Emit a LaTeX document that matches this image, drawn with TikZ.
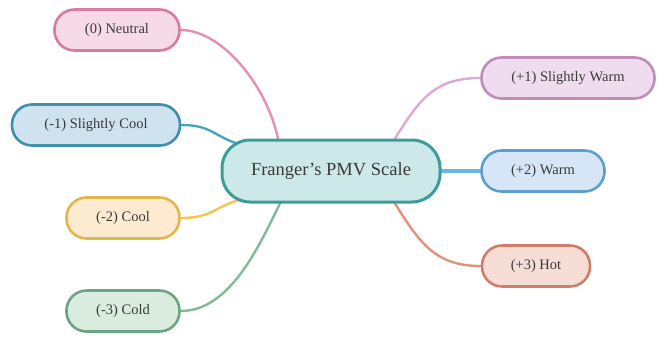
\documentclass[tikz,border=0pt]{standalone}
\usepackage{fontspec}
\setmainfont{Liberation Serif}
\usetikzlibrary{calc}
\pgfdeclarelayer{bg}
\pgfsetlayers{bg,main}
\definecolor{txt}{HTML}{3A3A3A}
\definecolor{nF}{HTML}{F7DAE7}\definecolor{nD}{HTML}{D77BA2}\definecolor{nL}{HTML}{E58FB3}
\definecolor{scF}{HTML}{CFE3EF}\definecolor{scD}{HTML}{3F8FAF}\definecolor{scL}{HTML}{4AA3BE}
\definecolor{cF}{HTML}{FDEBD1}\definecolor{cD}{HTML}{E3B64A}\definecolor{cL}{HTML}{F3C653}
\definecolor{cdF}{HTML}{D9ECDE}\definecolor{cdD}{HTML}{6EA484}\definecolor{cdL}{HTML}{82BA98}
\definecolor{mF}{HTML}{CDE8E9}\definecolor{mD}{HTML}{3C9C9C}
\definecolor{swF}{HTML}{EFDDEF}\definecolor{swD}{HTML}{BF8CBB}\definecolor{swL}{HTML}{DBAAD3}
\definecolor{wF}{HTML}{D6E6F7}\definecolor{wD}{HTML}{5E9ECD}\definecolor{wL}{HTML}{6BB8E4}
\definecolor{hF}{HTML}{F6DED6}\definecolor{hD}{HTML}{CF7F69}\definecolor{hL}{HTML}{E0927C}
\tikzset{
  leaf/.style={draw=#1D, fill=#1F, line width=2.6bp, rounded corners=20bp,
    minimum height=41bp, text=txt, font=\fontsize{14.5bp}{17bp}\selectfont, inner sep=0pt},
  centre/.style={draw=mD, fill=mF, line width=3bp, rounded corners=28bp, minimum width=218bp,
    minimum height=62bp, text=txt, font=\fontsize{18.5bp}{21bp}\selectfont, inner sep=0pt},
  conn/.style={draw=#1L, line width=2.4bp, line cap=round},
}
\begin{document}
\begin{tikzpicture}[x=1bp,y=-1bp]
\useasboundingbox (0,0) rectangle (665,337);
% central
\node[centre] (c) at (331,171) {Franger's PMV Scale};
% anchors on the central node
\coordinate (cn) at ($(c.north)+(-53,0)$);
\coordinate (cnr) at ($(c.north)+(64,0)$);
\coordinate (csc) at ($(c.west)+(18,-27)$);
\coordinate (ccl) at ($(c.west)+(18,29)$);
\coordinate (cs) at ($(c.south)+(-51,0)$);
\coordinate (csr) at ($(c.south)+(64,0)$);
% leaves
\node[leaf=n,  minimum width=125bp] (n0) at (117,30)  {(0) Neutral};
\node[leaf=sc, minimum width=168bp] (n1) at (96,125)  {(-1) Slightly Cool};
\node[leaf=c,  minimum width=113bp] (n2) at (123,218) {(-2) Cool};
\node[leaf=cd, minimum width=113bp] (n3) at (123,311) {(-3) Cold};
\node[leaf=sw, minimum width=173bp] (p1) at (568,78)  {(+1) Slightly Warm};
\node[leaf=w,  minimum width=123bp] (p2) at (543,171) {(+2) Warm};
\node[leaf=h,  minimum width=108bp] (p3) at (536,266) {(+3) Hot};
% connectors
\begin{pgfonlayer}{bg}
\draw[conn=n]  (n0.east) .. controls +(40,0) and +(-12,-55) .. (cn);
\draw[conn=sc] (n1.east) .. controls +(30,0) and +(-25,-8) .. (csc);
\draw[conn=c]  (n2.east) .. controls +(30,0) and +(-25,8) .. (ccl);
\draw[conn=cd] (n3.east) .. controls +(50,0) and +(-20,40) .. (cs);
\draw[conn=sw] (p1.west) .. controls +(-45,0) and +(25,-40) .. (cnr);
\draw[conn=w, line width=3.5bp] (c.east) -- (p2.west);
\draw[conn=h]  (p3.west) .. controls +(-45,0) and +(25,40) .. (csr);
\end{pgfonlayer}
\end{tikzpicture}
\end{document}
